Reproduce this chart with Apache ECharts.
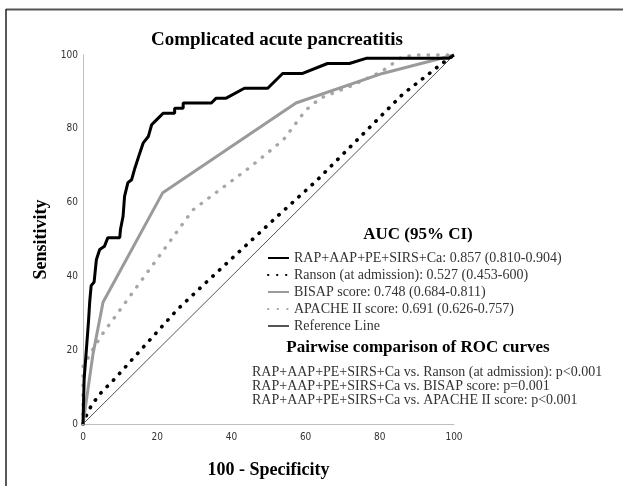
<!DOCTYPE html>
<html>
<head>
<meta charset="utf-8">
<script src="https://cdn.jsdelivr.net/npm/echarts@6/dist/echarts.min.js"></script>
<style>
html,body{margin:0;padding:0;background:#fff;}
#chart{width:623px;height:486px;}
</style>
</head>
<body>
<div id="chart"></div>
<script>
// ---- data ----
const chartTitle = 'Complicated acute pancreatitis';
const xAxisName = '100 - Specificity';
const yAxisName = 'Sensitivity';
const seriesNames = ['RAP+AAP+PE+SIRS+Ca', 'Ranson (at admission)', 'BISAP score', 'APACHE II score', 'Reference Line'];
const aucTexts = [': 0.857 (0.810-0.904)', ': 0.527 (0.453-600)', ': 0.748 (0.684-0.811)', ': 0.691 (0.626-0.757)', ''];
const legendHeader = 'AUC (95% CI)';
const pairwiseHeader = 'Pairwise comparison of ROC curves';
const pairwiseLines = [
  'RAP+AAP+PE+SIRS+Ca vs. Ranson (at admission): p<0.001',
  'RAP+AAP+PE+SIRS+Ca vs. BISAP score: p=0.001',
  'RAP+AAP+PE+SIRS+Ca vs. APACHE II score: p<0.001'
];
// [100 - specificity, sensitivity]
const mainPoints = [[0,0],[0.3,0],[0.3,12],[0.8,12],[0.9,20],[1.5,28],[1.8,33],[2.2,37.5],[3,38.5],[3.6,44.5],[4.5,47.3],[5.8,48.2],[6.7,50.5],[9.9,50.5],[10.1,52.7],[10.8,56.3],[11.2,61.7],[12.1,65.4],[13.1,66.2],[14,69.4],[15.3,73.4],[16.2,76.1],[17.6,77.9],[18.5,81.1],[19.4,82],[20.7,83.3],[21.6,84.2],[24.7,84.2],[24.7,85.6],[27,85.6],[27,87],[34.6,87],[35.9,88.3],[38.6,88.3],[43.5,91],[49.8,91],[53.8,95],[59.2,95],[65.9,97.7],[71.8,97.7],[76.3,99.1],[98.6,99.1],[100,100]];
const ransonPoints = [[0,0],[0.9,2.3],[2.2,4.9],[4.5,8.1],[8.5,12.2],[16.6,21.2],[25.5,31.1],[33.1,38.3],[52.5,56.4],[62.8,65.8],[75.4,78.5],[86.1,89.3],[96.9,97.8],[100,100]];
const bisapPoints = [[0,0],[2.7,19],[5.4,33],[21.5,62.7],[57.4,87],[80.7,95],[100,100]];
const apachePoints = [[0,0],[0,15.5],[2.7,20.3],[4.9,23.9],[29.6,58],[44.9,69.5],[54,77],[60,85],[64,88.3],[72,91.5],[80.5,95.5],[86,99.5],[89.7,100],[100,100]];
const referencePoints = [[0,0],[100,100]];

// ---- chart ----
const serif = 'Liberation Serif, Times New Roman, serif';
const tickFont = "'DejaVu Sans Condensed', 'Liberation Sans Narrow', 'Liberation Sans', sans-serif";
const chart = echarts.init(document.getElementById('chart'), null, {renderer: 'canvas'});

function lineSeries(name, data, color, width, type, cap, z) {
  return {
    name: name, type: 'line', data: data, symbol: 'none', showSymbol: false, smooth: false,
    clip: false, z: z, animation: false,
    lineStyle: {color: color, width: width, type: type, cap: cap},
    itemStyle: {color: color},
    emphasis: {disabled: true}
  };
}

const option = {
  backgroundColor: '#ffffff',
  animation: false,
  title: {
    text: chartTitle, left: 151, top: 31, padding: 0,
    textStyle: {fontFamily: serif, fontWeight: 'bold', fontSize: 19, color: '#000'}
  },
  grid: {left: 83, right: 169, top: 55, bottom: 62, containLabel: false},
  xAxis: {
    type: 'value', min: 0, max: 100, interval: 20,
    name: xAxisName, nameLocation: 'middle', nameGap: 37,
    nameTextStyle: {fontFamily: serif, fontWeight: 'bold', fontSize: 18, color: '#000'},
    axisLine: {show: true, lineStyle: {color: '#bdbdbd', width: 1}},
    axisTick: {show: false}, splitLine: {show: false},
    axisLabel: {fontFamily: tickFont, fontSize: 10, color: '#333', margin: 8}
  },
  yAxis: {
    type: 'value', min: 0, max: 100, interval: 20,
    name: yAxisName, nameLocation: 'middle', nameGap: 33, nameRotate: 90,
    nameTextStyle: {fontFamily: serif, fontWeight: 'bold', fontSize: 18, color: '#000'},
    axisLine: {show: true, lineStyle: {color: '#bdbdbd', width: 1}},
    axisTick: {show: false}, splitLine: {show: false},
    axisLabel: {fontFamily: tickFont, fontSize: 10, color: '#333', margin: 5}
  },
  legend: {
    data: seriesNames, orient: 'vertical', left: 267, top: 251, padding: 0,
    itemWidth: 21, itemHeight: 14, itemGap: 3, selectedMode: false,
    itemStyle: {opacity: 0, borderWidth: 0},
    formatter: function (name) { return name + aucTexts[seriesNames.indexOf(name)]; },
    textStyle: {fontFamily: serif, fontSize: 14, color: '#333'}
  },
  series: [
    lineSeries(seriesNames[4], referencePoints, '#555', 1, 'solid', 'butt', 1),
    lineSeries(seriesNames[1], ransonPoints, '#000', 3.6, [0.4, 8.6], 'round', 2),
    lineSeries(seriesNames[3], apachePoints, '#a6a6a6', 3.4, [0.4, 9.2], 'round', 3),
    lineSeries(seriesNames[2], bisapPoints, '#9a9a9a', 3, 'solid', 'butt', 4),
    lineSeries(seriesNames[0], mainPoints, '#000', 3, 'solid', 'butt', 5)
  ],
  graphic: [
    {type: 'line', shape: {x1: 6, y1: 9.5, x2: 623, y2: 9.5}, style: {stroke: '#555', lineWidth: 2}, silent: true},
    {type: 'line', shape: {x1: 6, y1: 9, x2: 6, y2: 486}, style: {stroke: '#222', lineWidth: 1.5}, silent: true},
    {type: 'text', x: 418, y: 235, style: {text: legendHeader, fontFamily: serif, fontWeight: 'bold', fontSize: 17, fill: '#000', align: 'center', verticalAlign: 'middle'}, silent: true},
    {type: 'text', x: 418, y: 348, style: {text: pairwiseHeader, fontFamily: serif, fontWeight: 'bold', fontSize: 17, fill: '#000', align: 'center', verticalAlign: 'middle'}, silent: true},
    {type: 'text', x: 252, y: 372, style: {text: pairwiseLines[0], fontFamily: serif, fontSize: 14, fill: '#333', align: 'left', verticalAlign: 'middle'}, silent: true},
    {type: 'text', x: 252, y: 386, style: {text: pairwiseLines[1], fontFamily: serif, fontSize: 14, fill: '#333', align: 'left', verticalAlign: 'middle'}, silent: true},
    {type: 'text', x: 252, y: 400, style: {text: pairwiseLines[2], fontFamily: serif, fontSize: 14, fill: '#333', align: 'left', verticalAlign: 'middle'}, silent: true}
  ]
};
chart.setOption(option);
</script>
</body>
</html>
